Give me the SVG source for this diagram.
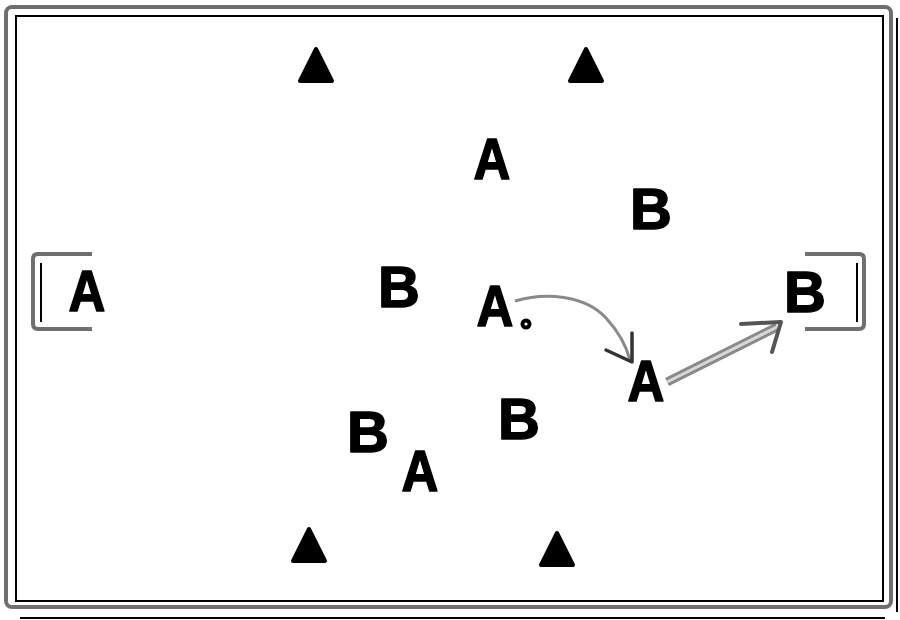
<svg xmlns="http://www.w3.org/2000/svg" width="900" height="620" viewBox="0 0 900 620">
<style>
.lt{font-family:"Liberation Sans",Arial,sans-serif;font-weight:bold;font-size:58px;fill:#000;stroke:#000;stroke-width:1.5;stroke-linejoin:round;text-anchor:middle}
.frameg{fill:none;stroke:#6f6f6f;stroke-width:4}
.frameb{fill:none;stroke:#000;stroke-width:2}
.cone{fill:#000;stroke:#000;stroke-width:4;stroke-linejoin:round}
</style>
<defs>
<path id="cone" d="M0,0 L16,32 L-16,32 Z"/>
</defs>
<rect width="900" height="620" fill="#fff"/>
<g id="field">
<rect class="frameg" x="6" y="7" width="885" height="600" rx="6"/>
<rect class="frameb" x="16" y="16" width="867" height="585"/>
<line class="frameb" x1="897" y1="18" x2="897" y2="612"/>
<line class="frameb" x1="20" y1="618" x2="885" y2="618"/>
</g>
<g id="goal-left">
<path class="frameg" d="M92,254 L38,254 Q33,254 33,259 L33,324 Q33,329 38,329 L92,329"/>
<line class="frameb" x1="41" y1="263" x2="41" y2="322"/>
</g>
<g id="goal-right">
<path class="frameg" d="M805,254 L859,254 Q864,254 864,259 L864,324 Q864,329 859,329 L805,329"/>
<line class="frameb" x1="857" y1="263" x2="857" y2="322"/>
</g>
<g id="cone-tl"><use href="#cone" class="cone" x="316" y="49"/></g>
<g id="cone-tr"><use href="#cone" class="cone" x="586" y="49"/></g>
<g id="cone-bl"><use href="#cone" class="cone" x="309" y="529"/></g>
<g id="cone-br"><use href="#cone" class="cone" x="557" y="533"/></g>
<g id="A-left"><text class="lt" transform="translate(87,311) scale(0.88,1)">A</text></g>
<g id="B-right"><text class="lt" x="805" y="312">B</text></g>
<g id="A-top"><text class="lt" transform="translate(492,179) scale(0.88,1)">A</text></g>
<g id="B-upper"><text class="lt" x="651" y="229">B</text></g>
<g id="B-mid"><text class="lt" x="399" y="307">B</text></g>
<g id="A-ball"><text class="lt" transform="translate(495,326) scale(0.88,1)">A</text></g>
<g id="ball"><circle cx="526" cy="324" r="5.5" fill="#000"/><circle cx="526" cy="324" r="1.6" fill="#fff"/></g>
<g id="A-recv"><text class="lt" transform="translate(646,401) scale(0.88,1)">A</text></g>
<g id="B-low"><text class="lt" x="519" y="439">B</text></g>
<g id="B-lowleft"><text class="lt" x="368" y="452">B</text></g>
<g id="A-low"><text class="lt" transform="translate(420,491) scale(0.88,1)">A</text></g>
<g id="connectors">
<path d="M515,301 C545,292 585,295 606,318 C618,331 626,345 630,360" fill="none" stroke="#8a8a8a" stroke-width="3"/>
<path d="M632,333 L632,362 L606,350" fill="none" stroke="#333" stroke-width="3.5" stroke-linejoin="round" stroke-linecap="round"/>
<line x1="667" y1="382" x2="777" y2="327" stroke="#8a8a8a" stroke-width="9"/>
<line x1="667" y1="382" x2="777" y2="327" stroke="#d8d8d8" stroke-width="3"/>
<path d="M741,324 L781,322 L772,352" fill="none" stroke="#555" stroke-width="4" stroke-linejoin="round" stroke-linecap="round"/>
</g>
</svg>
